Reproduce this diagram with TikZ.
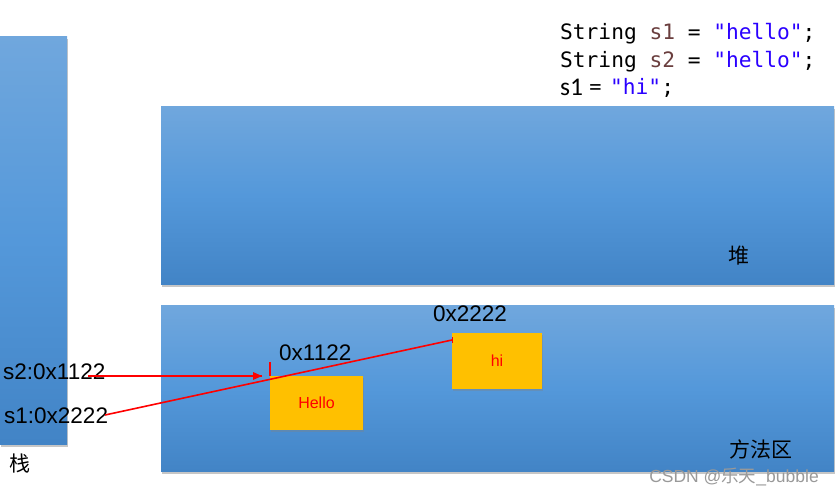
\documentclass[tikz,border=0pt]{standalone}
\usepackage{fontspec}
\setmainfont{Liberation Sans}
\newfontfamily\codefont{DejaVu Sans Mono}
\newfontfamily\calfont{Carlito}
\newfontfamily\cjk{Noto Sans CJK SC}
\usetikzlibrary{shadows}
\definecolor{bluetop}{RGB}{112,167,221}
\definecolor{bluemid}{RGB}{84,152,218}
\definecolor{bluebot}{RGB}{66,132,198}
\definecolor{boxfill}{RGB}{255,192,0}
\definecolor{varcol}{RGB}{106,62,62}
\definecolor{strcol}{RGB}{42,0,255}
\tikzset{
  area/.style={draw=none, top color=bluetop, bottom color=bluebot, middle color=bluemid,
    drop shadow={shadow xshift=1pt, shadow yshift=-2.5pt, opacity=0.45}},
  valbox/.style={draw=none, fill=boxfill, text=red, font=\fontsize{16}{18}\selectfont,
    drop shadow={shadow xshift=1pt, shadow yshift=-1.5pt, opacity=0.35}},
  lbl/.style={font=\fontsize{22.5}{24}\selectfont, inner sep=0pt},
  cjklbl/.style={font=\cjk\fontsize{21}{24}\selectfont, inner sep=0pt},
  code/.style={font=\codefont\fontsize{21.2}{24}\selectfont, inner sep=0pt, anchor=base west},
  redline/.style={draw=red, line width=1.6pt}
}
\begin{document}
\begin{tikzpicture}[x=1pt,y=-1pt]
\useasboundingbox (0,0) rectangle (837,495);
% areas
\path[area] (0,37) rectangle (67,444);
\path[area] (161,106) rectangle (834,284);
\path[area] (161,305) rectangle (834,471);
% area labels
\node[cjklbl] (zhan) at (20,464) {栈};
\node[cjklbl] (dui) at (739,256) {堆};
\node[cjklbl] (ffq) at (761,449) {方法区};
% code
\node[code] (c1) at (560,40) {String \textcolor{varcol}{s1} = \textcolor{strcol}{"hello"};};
\node[code] (c2) at (560,67) {String \textcolor{varcol}{s2} = \textcolor{strcol}{"hello"};};
\node[code, font=\calfont\fontsize{25.5}{26}\selectfont] (c3a) at (560,95) {s1};
\node[code, font=\calfont\fontsize{25.5}{26}\selectfont] (c3eq) at (589,95) {=};
\node[code] (c3b) at (610,94) {\textcolor{strcol}{"hi"};};
% value boxes
\node[valbox, minimum width=93pt, minimum height=54pt, inner sep=0pt] (hello) at (316.5,403) {Hello};
\node[valbox, minimum width=90pt, minimum height=56pt, inner sep=0pt] (hi) at (497,361) {hi};
% address labels
\node[lbl, anchor=base west] (a1122) at (279,360) {0x1122};
\node[lbl, anchor=base west] (a2222) at (433,321) {0x2222};
% stack entries
\node[lbl, anchor=base west] (s2) at (3,379) {s2:0x1122};
\node[lbl, anchor=base west] (s1) at (4,423) {s1:0x2222};
% connectors
\coordinate (s2start) at (88,376);
\coordinate (helloref) at (262,376);
\coordinate (tick1top) at (270,362);
\coordinate (tick1bot) at (270,376);
\coordinate (s1start) at (105,415);
\coordinate (hiref) at (452,340);
\draw[redline] (s2start) -- (helloref);
\fill[red] (helloref) ++(-9,-4) -- ++(9,4) -- ++(-9,4) -- cycle;
\draw[redline] (tick1top) -- (tick1bot);
\draw[redline] (s1start) -- (hiref);
\draw[red, line width=1pt] ([yshift=-3pt]hiref) -- ([yshift=3pt]hiref);
% watermark
\node[font=\fontsize{17.5}{19}\selectfont, text=black!40, anchor=base] (wm) at (734,482) {CSDN @{\cjk 乐天}\_bubble};
\end{tikzpicture}
\end{document}
